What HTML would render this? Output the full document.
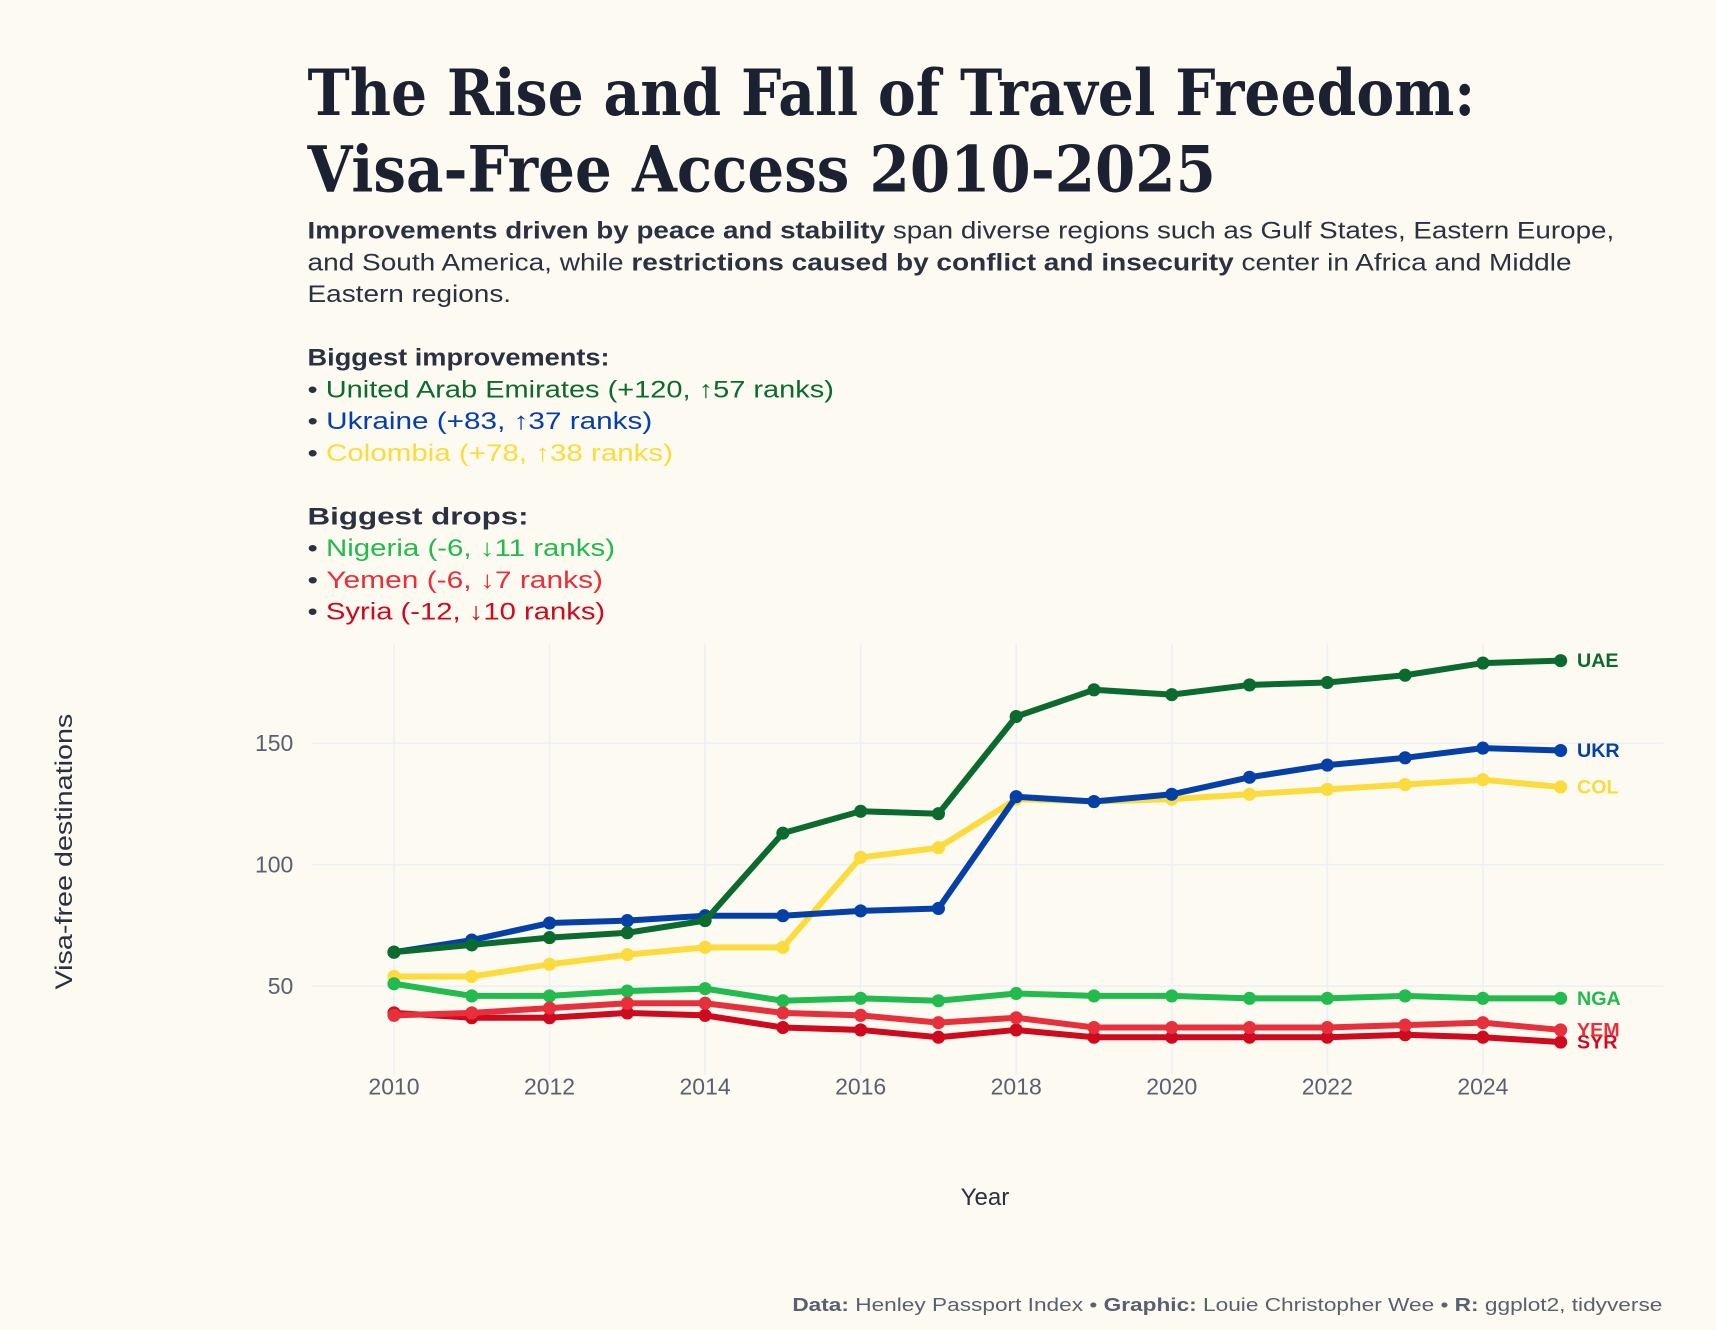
<!DOCTYPE html>
<html><head><meta charset="utf-8"><style>
html,body{margin:0;padding:0;background:#fdfaf2;}
svg{display:block;font-family:"Liberation Sans",sans-serif;}
</style></head><body>
<svg width="1716" height="1330" viewBox="0 0 1568 1215" xmlns="http://www.w3.org/2000/svg">
<rect width="1568" height="1215" fill="#fdfaf2"/>
<g font-family="'DejaVu Serif','Liberation Serif',serif" font-weight="bold" fill="#1b2130" font-size="58">
<text x="281" y="105" textLength="1067" lengthAdjust="spacingAndGlyphs">The Rise and Fall of Travel Freedom:</text>
<text x="281" y="175" textLength="830" lengthAdjust="spacingAndGlyphs">Visa-Free Access 2010-2025</text>
</g>
<g font-size="22" fill="#2a3140" lengthAdjust="spacingAndGlyphs">
<text x="281" y="218" textLength="1194" lengthAdjust="spacingAndGlyphs"><tspan font-weight="bold">Improvements driven by peace and stability</tspan> span diverse regions such as Gulf States, Eastern Europe,</text>
<text x="281" y="247" textLength="1155" lengthAdjust="spacingAndGlyphs">and South America, while <tspan font-weight="bold">restrictions caused by conflict and insecurity</tspan> center in Africa and Middle</text>
<text x="281" y="276" textLength="186" lengthAdjust="spacingAndGlyphs">Eastern regions.</text>
<text x="281" y="334" font-weight="bold" textLength="276" lengthAdjust="spacingAndGlyphs">Biggest improvements:</text>
<text x="281" y="363" textLength="481" lengthAdjust="spacingAndGlyphs"><tspan fill="#2a3140">• </tspan><tspan fill="#0b6b2e">United Arab Emirates (+120, ↑57 ranks)</tspan></text>
<text x="281" y="392" textLength="315" lengthAdjust="spacingAndGlyphs"><tspan fill="#2a3140">• </tspan><tspan fill="#0540a8">Ukraine (+83, ↑37 ranks)</tspan></text>
<text x="281" y="421" textLength="334" lengthAdjust="spacingAndGlyphs"><tspan fill="#2a3140">• </tspan><tspan fill="#fcdc3c">Colombia (+78, ↑38 ranks)</tspan></text>
<text x="281" y="479" font-weight="bold" textLength="202" lengthAdjust="spacingAndGlyphs">Biggest drops:</text>
<text x="281" y="508" textLength="281" lengthAdjust="spacingAndGlyphs"><tspan fill="#2a3140">• </tspan><tspan fill="#22bb4d">Nigeria (-6, ↓11 ranks)</tspan></text>
<text x="281" y="537" textLength="270" lengthAdjust="spacingAndGlyphs"><tspan fill="#2a3140">• </tspan><tspan fill="#e8303c">Yemen (-6, ↓7 ranks)</tspan></text>
<text x="281" y="566" textLength="272" lengthAdjust="spacingAndGlyphs"><tspan fill="#2a3140">• </tspan><tspan fill="#cf0a1e">Syria (-12, ↓10 ranks)</tspan></text>
</g>
<g id="grid"></g>
<g id="series"></g>
<text x="900" y="1101" text-anchor="middle" font-size="22" fill="#2a3140">Year</text>
<text transform="translate(66,778) rotate(-90)" text-anchor="middle" font-size="22" fill="#2a3140" textLength="252" lengthAdjust="spacingAndGlyphs">Visa-free destinations</text>
<text x="724" y="1198" font-size="17" fill="#5a6070" textLength="795" lengthAdjust="spacingAndGlyphs"><tspan font-weight="bold">Data:</tspan> Henley Passport Index • <tspan font-weight="bold">Graphic:</tspan> Louie Christopher Wee • <tspan font-weight="bold">R:</tspan> ggplot2, tidyverse</text>
</svg>
<script>
const years=[2010,2011,2012,2013,2014,2015,2016,2017,2018,2019,2020,2021,2022,2023,2024,2025];
const xTicks=[2010,2012,2014,2016,2018,2020,2022,2024];
const yTicks=[50,100,150];
const uae=[64,67,70,72,77,113,122,121,161,172,170,174,175,178,183,184];
const ukr=[64,69,76,77,79,79,81,82,128,126,129,136,141,144,148,147];
const col=[54,54,59,63,66,66,103,107,127,126,127,129,131,133,135,132];
const nga=[51,46,46,48,49,44,45,44,47,46,46,45,45,46,45,45];
const yem=[38,39,41,43,43,39,38,35,37,33,33,33,33,34,35,32];
const syr=[39,37,37,39,38,33,32,29,32,29,29,29,29,30,29,27];
const seriesList=[
 {code:'COL',vals:col,color:'#fcdc3c'},
 {code:'UKR',vals:ukr,color:'#0540a8'},
 {code:'UAE',vals:uae,color:'#0b6b2e'},
 {code:'NGA',vals:nga,color:'#22bb4d'},
 {code:'SYR',vals:syr,color:'#cf0a1e'},
 {code:'YEM',vals:yem,color:'#e8303c'}
];
const NS='http://www.w3.org/2000/svg';
const xs=y=>360+(y-2010)*71.07;
const ys=v=>901-(v-50)*2.22;
const grid=document.getElementById('grid');
function mk(tag,attrs,parent){const e=document.createElementNS(NS,tag);for(const k in attrs)e.setAttribute(k,attrs[k]);parent.appendChild(e);return e;}
xTicks.forEach(t=>{
 const l=mk('line',{x1:xs(t),x2:xs(t),y1:588,y2:982,stroke:'#edf0f4','stroke-width':1.5},grid);
 
 
 const tx=mk('text',{x:xs(t),y:1000,'text-anchor':'middle','font-size':21,fill:'#5a6070'},grid);
 tx.textContent=t;
 
 
});
yTicks.forEach(t=>{
 const l=mk('line',{x1:285,x2:1520,y1:ys(t),y2:ys(t),stroke:'#edf0f4','stroke-width':1.5},grid);
 
 
 const tx=mk('text',{x:268,y:ys(t)+7,'text-anchor':'end','font-size':21,fill:'#5a6070'},grid);
 tx.textContent=t;
 
 
});
const sg=document.getElementById('series');
seriesList.forEach(s=>{
 const g=mk('g',{},sg);
 
 
 const pts=years.map((y,i)=>xs(y)+','+ys(s.vals[i])).join(' ');
 const pl=mk('polyline',{points:pts,fill:'none',stroke:s.color,'stroke-width':5.5,'stroke-linejoin':'round'},g);
 
 
 years.forEach((y,i)=>{
  const c=mk('circle',{cx:xs(y),cy:ys(s.vals[i]),r:6,fill:s.color},g);
  
  
 });
 const last=s.vals[s.vals.length-1];
 const lb=mk('text',{x:1441,y:ys(last)+6,'font-size':18,'font-weight':'bold',fill:s.color},g);
 lb.textContent=s.code;
 
 
});
</script>
</body></html>
